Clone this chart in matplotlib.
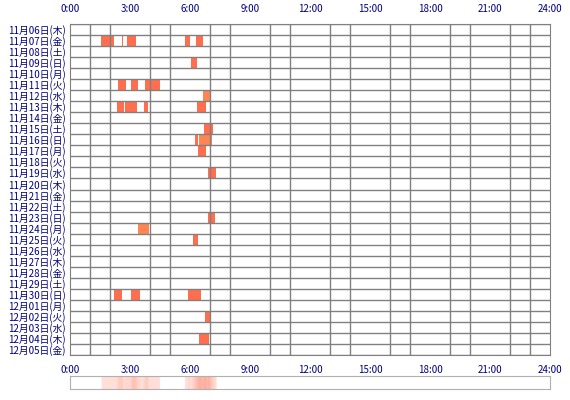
import matplotlib
matplotlib.use("Agg")
import matplotlib.pyplot as plt
import numpy as np
import datetime as dt

plt.rcParams['font.family'] = ['Noto Sans CJK JP', 'DejaVu Sans']

start = dt.date(2025, 11, 6)
ndays = 30
wd = ['月', '火', '水', '木', '金', '土', '日']
day_labels = [f"{(start+dt.timedelta(i)).month}月{(start+dt.timedelta(i)).day:02d}日({wd[(start+dt.timedelta(i)).weekday()]})" for i in range(ndays)]

# (day index, start hour, end hour, light)
sessions_day = [1,1,1,1,1,1, 3, 5,5,5, 6, 7,7,7,7, 9, 10,10, 11, 13, 17, 18, 19, 24,24,24, 26, 28]
sessions_start = [1.55,1.85,2.6,2.85,5.75,6.3, 6.05, 2.4,3.05,3.75, 6.65, 2.35,2.75,3.7,6.35, 6.7, 6.25,6.45, 6.4, 6.9, 6.9, 3.4, 6.15, 2.2,3.05,5.9, 6.75, 6.45]
sessions_end = [1.85,2.2,2.65,3.3,6.0,6.65, 6.35, 2.8,3.4,4.5, 7.0, 2.7,3.35,3.9,6.8, 7.15, 6.4,7.1, 6.8, 7.3, 7.25, 3.95, 6.4, 2.6,3.5,6.55, 7.0, 6.95]
sessions_light = [0,0,0,0,0,0, 0, 0,0,0, 1, 0,0,0,0, 0, 0,1, 0, 0, 0, 1, 0, 0,0,0, 0, 0]

fig = plt.figure(figsize=(5.7, 4.0), dpi=100)
ax = fig.add_axes([70/570, 1-355/400, 480/570, 331/400])
for d, s, e, l in zip(sessions_day, sessions_start, sessions_end, sessions_light):
    ax.barh(d, e - s, left=s, height=1.0, color='#ff8552' if l else '#ff6e4e', edgecolor='none', zorder=1)
ax.set_xlim(0, 24)
ax.set_ylim(ndays - 0.5, -0.5)
ax.set_xticks(np.arange(0, 25, 3))
ax.set_xticks(np.arange(0, 25, 1), minor=True)
ax.set_xticklabels([f"{h}:00" for h in range(0, 25, 3)])
ax.set_yticks(range(ndays))
ax.set_yticklabels(day_labels)
ax.set_yticks(np.arange(-0.5, ndays, 1), minor=True)
ax.grid(True, which='minor', color='#808080', lw=1, zorder=2)
ax.set_axisbelow(False)
ax.tick_params(axis='x', which='both', top=True, labeltop=True, bottom=False, length=0, labelsize=7, colors='#000080', pad=7)
ax.tick_params(axis='y', which='both', length=0, labelsize=7, colors='#000080', pad=3)
for sp in ax.spines.values():
    sp.set_color('#808080')

# density strip
ax2 = fig.add_axes([70/570, 1-389/400, 480/570, 13/400])
grid = np.linspace(0, 24, 24*12+1)
dens = np.zeros(len(grid) - 1)
for s, e in zip(sessions_start, sessions_end):
    mid = (grid[:-1] + grid[1:]) / 2
    dens += (mid >= s) & (mid < e)
img = np.ones((1, len(dens), 3))
t = np.clip(dens / 6, 0, 1)
col = np.array([1.0, 0.43, 0.31])
for i, v in enumerate(t):
    if dens[i] > 0:
        a = 0.15 + 0.4 * v
        img[0, i] = (1 - a) * np.ones(3) + a * col
ax2.imshow(img, aspect='auto', extent=[0, 24, 0, 1])
ax2.set_xticks([]); ax2.set_yticks([])
for sp in ax2.spines.values():
    sp.set_color('#b0b0b0')

fig.savefig('out.png', dpi=100)
